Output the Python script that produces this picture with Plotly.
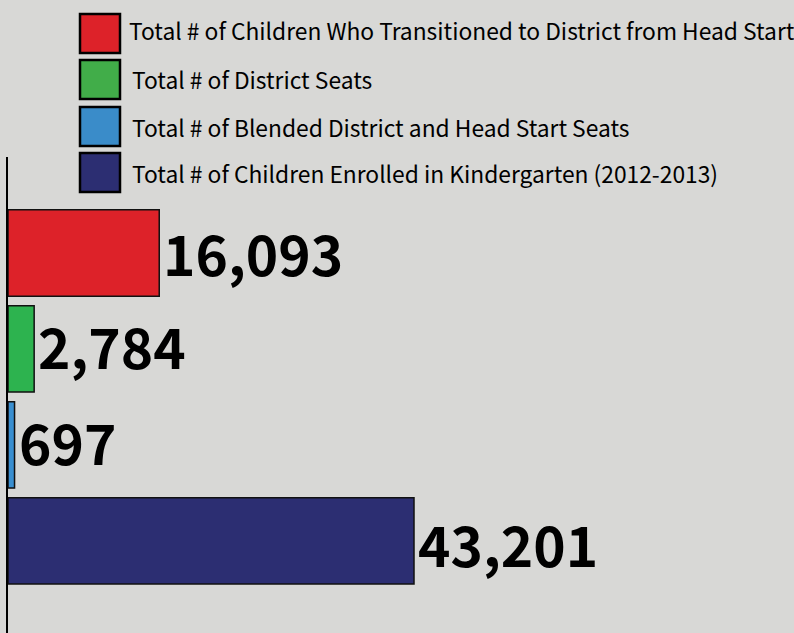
import plotly.graph_objects as go

# ---- data ----
categories = [
    "Total # of Children Who Transitioned to District from Head Start",
    "Total # of District Seats",
    "Total # of Blended District and Head Start Seats",
    "Total # of Children Enrolled in Kindergarten (2012-2013)",
]
values = [16093, 2784, 697, 43201]
bar_colors = ["#dd2229", "#2db34f", "#3a8fd0", "#2c2e72"]
legend_colors = ["#dd2229", "#41ad49", "#3a8cc9", "#2c2e72"]

# ---- layout constants (pixels) ----
W, H = 794, 633
ML, MT = 8, 157
PW, PH = W - ML, H - MT
BG = "#d8d8d6"
FONT = "Noto Sans CJK SC, Liberation Sans, sans-serif"


def px_x(p):
    return (p - ML) / PW


def px_y(p):
    return 1 - (p - MT) / PH


ypos = list(range(len(categories)))

fig = go.Figure()
fig.add_trace(go.Bar(
    x=values,
    y=ypos,
    orientation="h",
    width=0.9,
    marker=dict(color=bar_colors, line=dict(color="#111111", width=1.5)),
    hoverinfo="skip",
    showlegend=False,
))

# value labels
label_yshift = [1, 4, 4, -2]
for i, v in enumerate(values):
    fig.add_annotation(
        x=v, y=ypos[i], xref="x", yref="y",
        text=f"<b>{v:,}</b>", showarrow=False,
        xanchor="left", yanchor="middle", xshift=2, yshift=label_yshift[i],
        font=dict(family=FONT, size=55, color="#000000"),
    )

# legend (manual, large outlined squares)
sq_left, sq_right = 80, 120
row_tops = [14, 60, 107, 153]
sq_h = 39
text_x = [127, 130, 130, 130]
text_dy = [-3, 0, 1, 1]
for i, name in enumerate(categories):
    t = row_tops[i]
    fig.add_shape(
        type="rect", xref="paper", yref="paper",
        x0=px_x(sq_left), x1=px_x(sq_right), y0=px_y(t + sq_h), y1=px_y(t),
        fillcolor=legend_colors[i], line=dict(color="#000000", width=2.5),
        layer="above",
    )
    fig.add_annotation(
        x=px_x(text_x[i]), y=px_y(t + sq_h / 2 + text_dy[i]),
        xref="paper", yref="paper", text=name, showarrow=False,
        xanchor="left", yanchor="middle",
        font=dict(family=FONT, size=22.8, color="#000000"),
    )

fig.update_layout(
    width=W, height=H,
    margin=dict(l=ML, r=0, t=MT, b=0, pad=0),
    paper_bgcolor=BG, plot_bgcolor=BG,
    bargap=0.1,
    showlegend=False,
    xaxis=dict(range=[0, 83636], showgrid=False, zeroline=False,
               showticklabels=False, ticks="", showline=False),
    yaxis=dict(range=[3.96, -1], showgrid=False, zeroline=False,
               showticklabels=False, ticks="", showline=True,
               linecolor="#000000", linewidth=2),
)

fig.write_html("out.html")
